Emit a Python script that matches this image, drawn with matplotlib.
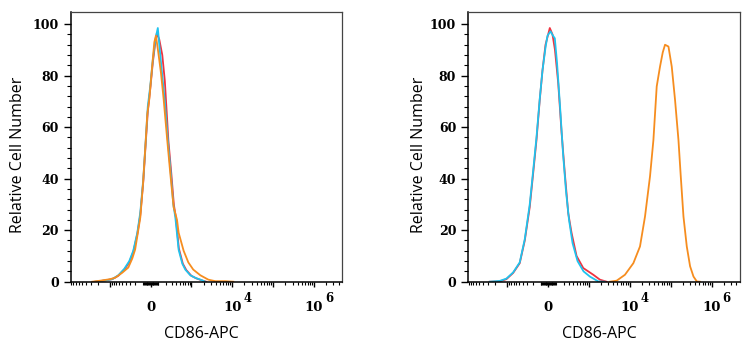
"""Two CD86-APC flow cytometry histograms on a biexponential-like axis."""

import numpy as np
import matplotlib

matplotlib.use("Agg")
import matplotlib.pyplot as plt
from matplotlib.ticker import FixedLocator, NullFormatter

# ---- data (intensity, relative cell number) ----
left_red_x = [-2330, -1320, -885, -623, -433, -314, -237, -171, -128, -89, -59, -35, -6, 23, 53, 71,
              102, 142, 179, 211, 237, 293, 347, 394, 475, 605, 744, 994, 1320, 1757, 2330]
left_red_y = [0, 0.5, 1, 2.3, 4.7, 7.5, 11.5, 18.5, 26, 39, 54, 66, 75, 85, 93, 96.5,
              94, 88, 78, 65, 55, 42, 30, 25, 13, 7, 4.5, 2.3, 1.3, 0.6, 0]

left_cyan_x = [-2330, -1320, -885, -623, -433, -314, -237, -171, -128, -89, -59, -35, -6, 23, 53, 83,
               108, 142, 179, 228, 283, 335, 382, 470, 587, 701, 937, 1249, 1660, 2200]
left_cyan_y = [0, 0.5, 1, 2.5, 5, 8, 12, 19, 27, 40, 55, 68, 76, 86, 94, 98.5,
               90, 80, 70, 55, 42, 30, 25, 12.4, 7, 4.7, 2.5, 1.5, 0.8, 0]

left_orange_x = [-2760, -1760, -990, -740, -490, -335, -255, -205, -157, -128, -93, -59, -41, -17, 14,
                 41, 60, 89, 124, 161, 214, 273, 342, 425, 470, 635, 835, 1110, 1660, 2610, 3880,
                 6810, 10700]
left_orange_y = [0, 0.4, 1, 1.6, 3.5, 5.5, 9, 12.5, 20, 25, 38, 55, 65, 71, 83,
                 93, 95.5, 89, 81, 71, 56, 42, 29, 24, 19, 12, 7.5, 4.7, 2.5, 0.8, 0.2,
                 0.2, 0]

right_red_x = [-2740, -1560, -1064, -722, -487, -355, -253, -195, -145, -101, -67, -31, 18.5, 50, 80,
               122, 169, 221, 283, 353, 484, 722, 1285, 1870, 2730]
right_red_y = [0, 0.1, 1, 3.4, 7.2, 16, 29, 42, 55, 70.6, 82, 92, 98.5, 96, 90,
               77, 58, 42, 26.6, 19, 10, 5.3, 2.7, 0.8, 0]

right_cyan_x = [-2740, -1560, -1064, -722, -487, -355, -253, -195, -145, -101, -67, -31, -8, 26.6, 56,
                78, 106, 147, 191, 242, 299, 377, 514, 735, 1058, 1708, 2440]
right_cyan_y = [0, 0.3, 1.2, 3.6, 7.5, 16.5, 30, 43, 56, 71, 82, 91, 95.5, 97.2, 95.5,
                94.5, 85, 68, 50, 35, 24, 15, 8, 4, 2, 0.1, 0]

right_orange_x = [3290, 4810, 7670, 12310, 17870, 23680, 31370, 37980, 45720, 55040, 64170, 72980,
                  88460, 106500, 128100, 155300, 176800, 205800, 247900, 298500, 361600, 435500, 515700]
right_orange_y = [0, 0.4, 2.7, 7.2, 13.7, 25.3, 40.9, 55, 75.8, 83.5, 89, 92,
                  91.3, 83.5, 70.6, 55, 40.9, 25.3, 13.7, 6, 2, 0.1, 0]

x_major = [-1000, 0, 1000, 1e4, 1e5, 1e6]
x_major_labels = ["", "0", "", "10", "", "10"]
x_exponents = {1e4: "4", 1e6: "6"}
y_major = [0, 20, 40, 60, 80, 100]

COLORS = {"red": "#ef3340", "cyan": "#1fc3ee", "orange": "#f68d1f"}
LINEAR_WIDTH = 205.0
TICK_FONT = "DejaVu Serif"
LABEL_FONT = "Open Sans"


def _fwd(x):
    return np.arcsinh(np.asarray(x, dtype=float) / LINEAR_WIDTH)


def _inv(y):
    return LINEAR_WIDTH * np.sinh(np.asarray(y, dtype=float))


def _minor_ticks():
    ticks = []
    for decade in [10, 100, 1000]:
        for k in range(1, 10):
            if k == 1 and decade > 10:
                continue
            ticks.append(-k * decade)
    for decade in [10, 100, 1000, 1e4, 1e5, 1e6]:
        for k in range(1, 10):
            if k == 1 and decade > 10:
                continue
            ticks.append(k * decade)
    return ticks


def style_axes(ax, ylabel_x):
    ax.set_xscale("function", functions=(_fwd, _inv))
    ax.set_xlim(-9300, 4.85e6)
    ax.set_ylim(-0.3, 104.6)

    ax.xaxis.set_major_locator(FixedLocator(x_major))
    ax.set_xticklabels(x_major_labels)
    ax.xaxis.set_minor_locator(FixedLocator(_minor_ticks()))
    ax.xaxis.set_minor_formatter(NullFormatter())

    ax.set_yticks(y_major)
    ax.yaxis.set_minor_locator(FixedLocator(np.arange(0, 101, 4)))

    ax.tick_params(axis="x", which="major", direction="out", length=3.3, width=1.0, pad=10,
                   labelsize=9.5)
    ax.tick_params(axis="x", which="minor", direction="out", length=1.8, width=0.8)
    ax.tick_params(axis="y", which="major", direction="out", length=5, width=1.0, pad=3.5,
                   labelsize=9)
    ax.tick_params(axis="y", which="minor", direction="out", length=2.8, width=0.8)

    for label in ax.get_yticklabels() + ax.get_xticklabels():
        label.set_fontfamily(TICK_FONT)
        label.set_fontweight("bold")

    # superscripts drawn next to the "10" tick labels, nearly full size like the original
    for value, exponent in x_exponents.items():
        ax.annotate(exponent, xy=(value, 0), xycoords=ax.get_xaxis_transform(),
                    xytext=(10.8, -11.2), textcoords="offset points",
                    ha="center", va="center", fontsize=8.5, fontfamily=TICK_FONT,
                    fontweight="bold", annotation_clip=False)

    for side in ["left", "bottom"]:
        ax.spines[side].set_linewidth(1.1)
        ax.spines[side].set_color("black")
    for side in ["top", "right"]:
        ax.spines[side].set_linewidth(0.9)
        ax.spines[side].set_color("#444444")

    ax.set_xlabel("CD86-APC", fontfamily=LABEL_FONT, fontsize=11.5)
    ax.set_ylabel("Relative Cell Number", fontfamily=LABEL_FONT, fontsize=11.5)
    ax.xaxis.set_label_coords(0.483, -0.161)
    ax.yaxis.set_label_coords(ylabel_x, 0.472)


fig = plt.figure(figsize=(7.54, 3.5), dpi=100)
ax_left = fig.add_axes([0.0938, 0.1929, 0.3598, 0.772])
ax_right = fig.add_axes([0.6207, 0.1929, 0.3603, 0.772])

lw = 1.3
ax_left.plot(left_red_x, left_red_y, color=COLORS["red"], lw=lw)
ax_left.plot(left_cyan_x, left_cyan_y, color=COLORS["cyan"], lw=lw)
ax_left.plot(left_orange_x, left_orange_y, color=COLORS["orange"], lw=lw)

ax_right.plot(right_red_x, right_red_y, color=COLORS["red"], lw=lw)
ax_right.plot(right_cyan_x, right_cyan_y, color=COLORS["cyan"], lw=lw)
ax_right.plot(right_orange_x, right_orange_y, color=COLORS["orange"], lw=lw)

style_axes(ax_left, -0.166)
style_axes(ax_right, -0.151)

fig.savefig("out.png", dpi=100)
